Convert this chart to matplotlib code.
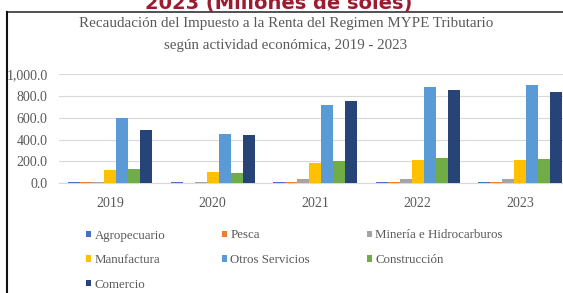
import matplotlib
matplotlib.use("Agg")
import matplotlib.pyplot as plt
from matplotlib.patches import Patch
from matplotlib.lines import Line2D
import numpy as np

years = ["2019", "2020", "2021", "2022", "2023"]
series = ["Agropecuario", "Pesca", "Minería e Hidrocarburos", "Manufactura",
          "Otros Servicios", "Construcción", "Comercio"]
agropecuario = [10, 9, 15, 15, 15]
pesca = [8, 1, 12, 13, 8]
mineria = [10, 8, 40, 42, 40]
manufactura = [125, 101, 184, 215, 212]
otros_servicios = [599, 452, 715, 885, 906]
construccion = [130, 96, 203, 233, 224]
comercio = [486, 440, 752, 860, 835]
values = [agropecuario, pesca, mineria, manufactura, otros_servicios, construccion, comercio]
colors = ["#4472C4", "#ED7D31", "#A5A5A5", "#FFC000", "#5B9BD5", "#70AD47", "#264478"]
yticks = [0, 200, 400, 600, 800, 1000]
ytick_labels = ["0.0", "200.0", "400.0", "600.0", "800.0", "1,000.0"]

W, H = 563, 293
fig = plt.figure(figsize=(W / 100, H / 100), dpi=100)
fig.patch.set_facecolor("white")

serif = "Liberation Serif"
gray = "#595959"

# cropped header text
fig.text(279 / W, 1 - 9 / H, "2023 (Millones de soles)", ha="center", va="baseline",
         fontsize=14, fontweight="bold", color="#9B1B30", family="DejaVu Sans")

# frame lines
fig.add_artist(Line2D([7 / W, 1], [1 - 12 / H, 1 - 12 / H], color="#333333", lw=1.2,
                      transform=fig.transFigure))
fig.add_artist(Line2D([7 / W, 7 / W], [0, 1 - 12 / H], color="#111111", lw=1.5,
                      transform=fig.transFigure))

# chart title
fig.text(286 / W, 1 - 23 / H, "Recaudación del Impuesto a la Renta del Regimen MYPE Tributario",
         ha="center", va="center", fontsize=10.8, color=gray, family=serif)
fig.text(286 / W, 1 - 45.5 / H, "según actividad económica, 2019 - 2023",
         ha="center", va="center", fontsize=10.8, color=gray, family=serif)

left_px, right_px = 58.75, W
top_px, bottom_px = 74.5, 183.2
ax = fig.add_axes([left_px / W, 1 - bottom_px / H, (right_px - left_px) / W,
                   (bottom_px - top_px) / H])
cat_px = 102.5
ax.set_xlim(-0.5, -0.5 + (right_px - left_px) / cat_px)
ax.set_ylim(0, 1000)

x = np.arange(len(years))
bw = 12 / cat_px
for i, (name, vals, c) in enumerate(zip(series, values, colors)):
    ax.bar(x + (i - 3) * bw, vals, width=bw, color=c, label=name, zorder=3)

ax.set_yticks(yticks)
ax.set_yticklabels(ytick_labels, family=serif, fontsize=10, color=gray)
ax.set_xticks(x)
ax.set_xticklabels(years, family=serif, fontsize=10, color=gray)
ax.tick_params(axis="both", length=0)
ax.tick_params(axis="y", pad=8)
ax.tick_params(axis="x", pad=10)
ax.grid(axis="y", color="#D9D9D9", lw=0.8, zorder=0)
for s in ["top", "right", "left"]:
    ax.spines[s].set_visible(False)
ax.spines["bottom"].set_color("#D9D9D9")
ax.spines["bottom"].set_linewidth(0.8)

order = [0, 3, 6, 1, 4, 2, 5]
handles = [Patch(facecolor=colors[i], edgecolor="none") for i in order]
labels = [series[i] for i in order]
fig.legend(handles, labels, ncol=3, loc="upper left",
           bbox_to_anchor=(86 / W, 1 - 229.5 / H), frameon=False,
           prop={"family": serif, "size": 9.3}, labelcolor=gray,
           handlelength=0.4, handleheight=0.4, handletextpad=0.25,
           columnspacing=4.4, labelspacing=0.98, borderpad=0, borderaxespad=0)

fig.savefig("out.png", dpi=100)
